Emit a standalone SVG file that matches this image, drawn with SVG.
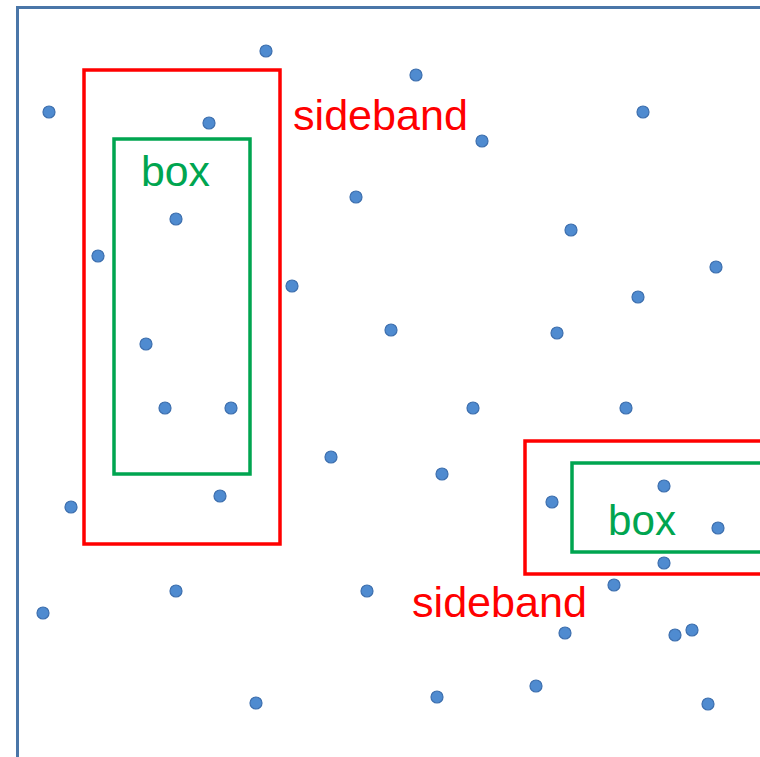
<svg xmlns="http://www.w3.org/2000/svg" width="760" height="757" viewBox="0 0 760 757">
<defs>
<style>
.dot{fill:#4f8bd0;stroke:#3d6fae;stroke-width:1.2}
.red{fill:none;stroke:#ff0000;stroke-width:3.5}
.green{fill:none;stroke:#00a550;stroke-width:3.5}
.lr{fill:#ff0000;font-family:"Liberation Sans",Arial,sans-serif;font-size:43px}
.lg{fill:#00a550;font-family:"Liberation Sans",Arial,sans-serif;font-size:43px}
</style>
</defs>
<rect width="760" height="757" fill="#ffffff"/>
<path d="M17.5 757 V7.5 H760" fill="none" stroke="#4a76a8" stroke-width="3"/>
<g id="sideband1">
<rect class="red" x="84" y="70" width="196" height="474"/>
<text class="lr" x="293" y="130" textLength="175" lengthAdjust="spacingAndGlyphs">sideband</text>
</g>
<g id="box1">
<rect class="green" x="114" y="139" width="136" height="335"/>
<text class="lg" x="141" y="186" textLength="69" lengthAdjust="spacingAndGlyphs">box</text>
</g>
<g id="sideband2">
<rect class="red" x="525" y="441" width="240" height="133"/>
<text class="lr" x="412" y="617" textLength="175" lengthAdjust="spacingAndGlyphs">sideband</text>
</g>
<g id="box2">
<rect class="green" x="572" y="463" width="193" height="89"/>
<text class="lg" x="608" y="535" textLength="68" lengthAdjust="spacingAndGlyphs">box</text>
</g>
<g id="points">
<circle class="dot" cx="266" cy="51" r="6"/>
<circle class="dot" cx="416" cy="75" r="6"/>
<circle class="dot" cx="49" cy="112" r="6"/>
<circle class="dot" cx="209" cy="123" r="6"/>
<circle class="dot" cx="643" cy="112" r="6"/>
<circle class="dot" cx="482" cy="141" r="6"/>
<circle class="dot" cx="356" cy="197" r="6"/>
<circle class="dot" cx="176" cy="219" r="6"/>
<circle class="dot" cx="571" cy="230" r="6"/>
<circle class="dot" cx="98" cy="256" r="6"/>
<circle class="dot" cx="716" cy="267" r="6"/>
<circle class="dot" cx="292" cy="286" r="6"/>
<circle class="dot" cx="638" cy="297" r="6"/>
<circle class="dot" cx="391" cy="330" r="6"/>
<circle class="dot" cx="557" cy="333" r="6"/>
<circle class="dot" cx="146" cy="344" r="6"/>
<circle class="dot" cx="165" cy="408" r="6"/>
<circle class="dot" cx="231" cy="408" r="6"/>
<circle class="dot" cx="473" cy="408" r="6"/>
<circle class="dot" cx="626" cy="408" r="6"/>
<circle class="dot" cx="331" cy="457" r="6"/>
<circle class="dot" cx="442" cy="474" r="6"/>
<circle class="dot" cx="220" cy="496" r="6"/>
<circle class="dot" cx="71" cy="507" r="6"/>
<circle class="dot" cx="552" cy="502" r="6"/>
<circle class="dot" cx="664" cy="486" r="6"/>
<circle class="dot" cx="718" cy="528" r="6"/>
<circle class="dot" cx="664" cy="563" r="6"/>
<circle class="dot" cx="614" cy="585" r="6"/>
<circle class="dot" cx="176" cy="591" r="6"/>
<circle class="dot" cx="367" cy="591" r="6"/>
<circle class="dot" cx="43" cy="613" r="6"/>
<circle class="dot" cx="565" cy="633" r="6"/>
<circle class="dot" cx="675" cy="635" r="6"/>
<circle class="dot" cx="692" cy="630" r="6"/>
<circle class="dot" cx="256" cy="703" r="6"/>
<circle class="dot" cx="437" cy="697" r="6"/>
<circle class="dot" cx="536" cy="686" r="6"/>
<circle class="dot" cx="708" cy="704" r="6"/>
</g>
</svg>
